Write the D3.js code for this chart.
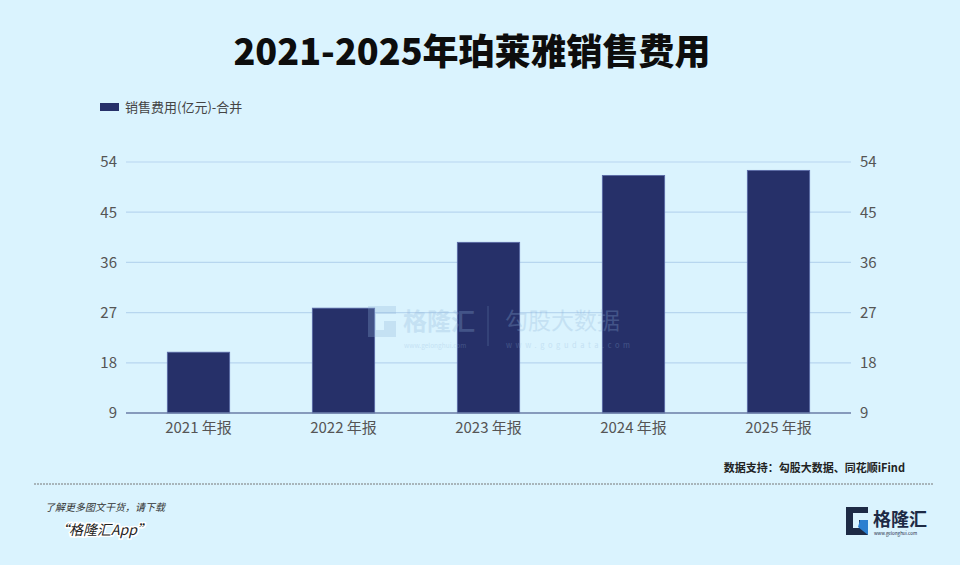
<!DOCTYPE html>
<html><head><meta charset="utf-8">
<script src="https://cdn.jsdelivr.net/npm/d3@7"></script>
<style>html,body{margin:0;padding:0;background:#daf3fe;}svg{display:block;font-family:"Noto Sans CJK SC","Noto Sans",sans-serif;}</style>
</head><body>
<script>
const categories = ["2021 年报","2022 年报","2023 年报","2024 年报","2025 年报"];
const values = [19.9, 27.8, 39.6, 51.6, 52.5];
const tickValues = [9, 18, 27, 36, 45, 54];
const seriesName = "销售费用(亿元)-合并";
const titleText = "2021-2025年珀莱雅销售费用";

(function () {
const W = 960, H = 565;
const svg = d3.select("body").append("svg").attr("width", W).attr("height", H);
svg.append("rect").attr("width", W).attr("height", H).attr("fill", "#daf3fe");

const pl = 126, pr = 851, pt = 162, pb = 413;
const x = d3.scaleBand().domain(categories).range([pl, pr]).paddingInner(0.57).paddingOuter(0.285);
const y = d3.scaleLinear().domain([9, 54]).range([pb, pt]);

// title
svg.append("text").attr("x", 472).attr("y", 65).attr("text-anchor", "middle")
  .attr("font-size", 36).attr("font-weight", 900).attr("fill", "#0d0d0d").text(titleText);

// legend
svg.append("rect").attr("x", 100).attr("y", 103).attr("width", 19).attr("height", 8).attr("fill", "#263069");
svg.append("text").attr("x", 125).attr("y", 112).attr("font-size", 13).attr("fill", "#444").text(seriesName);

// grid
svg.append("g").selectAll("line").data(tickValues.slice(1)).join("line")
  .attr("x1", pl).attr("x2", pr).attr("y1", d => y(d)).attr("y2", d => y(d))
  .attr("stroke", "#b7d6ef").attr("stroke-width", 1.2);

// bars
svg.append("g").selectAll("rect").data(values).join("rect")
  .attr("x", (d, i) => x(categories[i])).attr("width", x.bandwidth())
  .attr("y", d => y(d)).attr("height", d => y(9) - y(d))
  .attr("fill", "#263069").attr("stroke", "#5a6aa8").attr("stroke-width", 0.8);

// baseline
svg.append("line").attr("x1", pl).attr("x2", pr).attr("y1", pb).attr("y2", pb)
  .attr("stroke", "#6a7ca6").attr("stroke-width", 1.5);

// watermark (drawn over the bars, translucent)
const wm = svg.append("g").attr("opacity", 0.28);
const wc = "#8fb3d8";
wm.append("path").attr("d", "M368,306 h28 v8 h-20 v16 h8 v-9 h12 v16 h-28 z").attr("fill", wc);
wm.append("text").attr("x", 403).attr("y", 330).attr("font-size", 24).attr("font-weight", 700).attr("fill", wc).text("格隆汇");
wm.append("text").attr("x", 404).attr("y", 348).attr("font-size", 6.5).attr("fill", wc).text("www.gelonghui.com");
wm.append("line").attr("x1", 488).attr("x2", 488).attr("y1", 306).attr("y2", 346).attr("stroke", wc);
wm.append("text").attr("x", 505).attr("y", 329).attr("font-size", 23).attr("fill", wc).text("勾股大数据");
wm.append("text").attr("x", 506).attr("y", 348).attr("font-size", 7.5).attr("letter-spacing", 3.6).attr("fill", wc).text("www.gogudata.com");

// axes
const yl = svg.append("g").attr("transform", `translate(${pl - 9},0)`)
  .call(d3.axisLeft(y).tickValues(tickValues).tickSize(0).tickPadding(0));
const yr = svg.append("g").attr("transform", `translate(${pr + 9},0)`)
  .call(d3.axisRight(y).tickValues(tickValues).tickSize(0).tickPadding(0));
const xa = svg.append("g").attr("transform", `translate(0,${pb})`)
  .call(d3.axisBottom(x).tickSize(0).tickPadding(9));
[yl, yr, xa].forEach(g => {
  g.select(".domain").remove();
  g.selectAll("text").attr("font-size", 15).attr("fill", "#555").attr("font-family", '"Noto Sans CJK SC","Noto Sans",sans-serif');
});

// footer
svg.append("text").attr("x", 905).attr("y", 472).attr("text-anchor", "end").attr("font-size", 11)
  .attr("font-weight", 700).attr("fill", "#222").text("数据支持：勾股大数据、同花顺iFind");
svg.append("line").attr("x1", 34).attr("x2", 934).attr("y1", 484).attr("y2", 484)
  .attr("stroke", "#777").attr("stroke-width", 1).attr("stroke-dasharray", "2,1");
svg.append("text").attr("x", 45).attr("y", 511).attr("font-size", 10).attr("font-style", "italic")
  .attr("fill", "#333").text("了解更多图文干货，请下载");
svg.append("text").attr("x", 55).attr("y", 535).attr("font-size", 14).attr("font-style", "italic")
  .attr("fill", "#222").attr("stroke", "#fff").attr("stroke-width", 3).attr("paint-order", "stroke")
  .text("“格隆汇App”");

// logo
const lg = svg.append("g");
lg.append("path").attr("d", "M846,507 h22 v6 h-15 v15 h6 v-8 h9 v15 h-22 z").attr("fill", "#1d2a45");
lg.append("path").attr("d", "M860,520 h8 v15 l-10,-8 z").attr("fill", "#2c7fd0");
lg.append("text").attr("x", 873).attr("y", 526).attr("font-size", 18).attr("font-weight", 700).attr("fill", "#1d2a45").text("格隆汇");
lg.append("text").attr("x", 874).attr("y", 535).attr("font-size", 4.5).attr("fill", "#1d2a45").text("www.gelonghui.com");
})();
</script>
</body></html>
